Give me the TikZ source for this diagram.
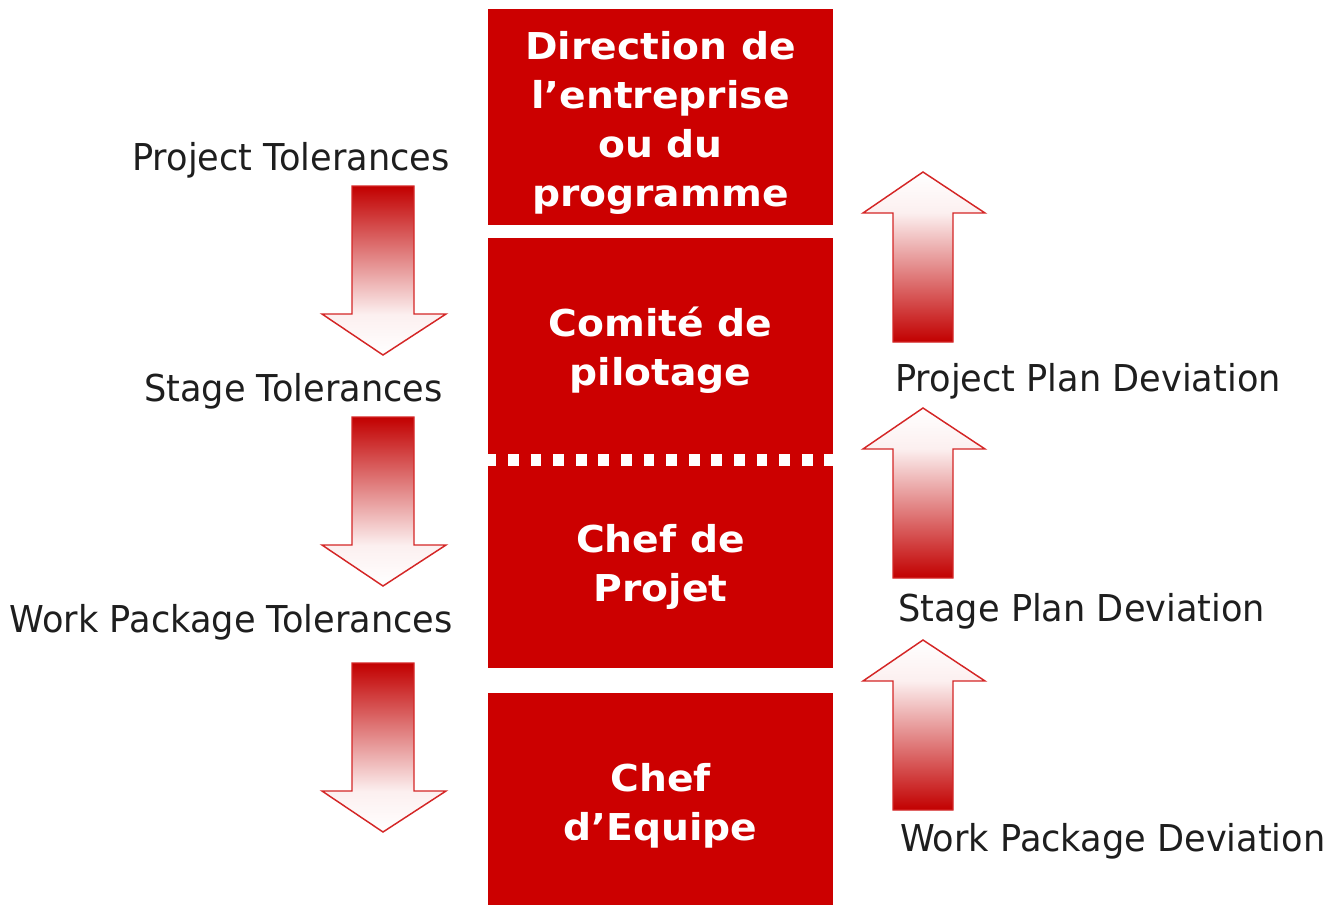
\documentclass[tikz,border=0pt]{standalone}
\usepackage{fontspec}
\setmainfont{DejaVu Sans}
\newfontfamily\labfont[FakeStretch=0.95]{DejaVu Sans}
\newfontfamily\boxfont[FakeStretch=1.06]{DejaVu Sans}
\definecolor{boxred}{HTML}{CC0000}
\definecolor{labgray}{HTML}{1E1E1E}
\pgfdeclareverticalshading{downfade}{100bp}{color(0bp)=(white); color(25bp)=(white); color(37bp)=(white!94!boxred); color(75bp)=(boxred!95!black); color(100bp)=(boxred!95!black)}
\pgfdeclareverticalshading{upfade}{100bp}{color(0bp)=(boxred!95!black); color(25bp)=(boxred!95!black); color(63bp)=(white!94!boxred); color(75bp)=(white); color(100bp)=(white)}
\tikzset{
  box/.style={fill=boxred, minimum width=258.75pt, inner sep=0pt},
  boxtext/.style={text=white, font=\boxfont\bfseries\fontsize{27.75pt}{36.75pt}\selectfont,
    align=center, inner sep=0pt},
  lab/.style={text=labgray, font=\labfont\fontsize{27.75pt}{33pt}\selectfont, inner sep=0pt},
  arr/.style={draw=boxred!85, line width=1.1pt, line join=miter}
}
\begin{document}
\begin{tikzpicture}[x=0.75pt,y=-0.75pt]
\useasboundingbox (0,0) rectangle (1329,904);
% boxes
\node[box, minimum height=162pt]   (b1) at (660.5,117) {};
\node[box, minimum height=166.5pt] (b2) at (660.5,349) {};
\node[box, minimum height=156pt]   (b3) at (660.5,564) {};
\node[box, minimum height=159pt]   (b4) at (660.5,798.5) {};
\node[boxtext] (t1) at (660.5,122.5) {Direction de\\l’entreprise\\ou du\\programme};
\node[boxtext] (t2) at (660.5,350) {Comité de\\pilotage};
\node[boxtext] (t3) at (660.5,567) {Chef de\\Projet};
\node[boxtext] (t4) at (660.5,806) {Chef\\d’Equipe};
% dotted separator
\draw[white, line width=9pt, dash pattern=on 8pt off 8.95pt, dash phase=1.7pt] (b2.south west) -- (b2.south east);
% down arrows
\foreach \t in {186,417,663} {
  \shadedraw[shading=downfade, arr] (352,\t) -- (414,\t) -- (414,\t+128) -- (446,\t+128) -- (383,\t+169) -- (322,\t+128) -- (352,\t+128) -- cycle;
}
% up arrows
\foreach \p in {172,408,640} {
  \shadedraw[shading=upfade, arr] (923,\p) -- (985,\p+41) -- (953,\p+41) -- (953,\p+170) -- (893,\p+170) -- (893,\p+41) -- (863,\p+41) -- cycle;
}
% labels
\node[lab, anchor=base east] (l1) at (450,170) {Project Tolerances};
\node[lab, anchor=base east] (l2) at (443,401) {Stage Tolerances};
\node[lab, anchor=base east] (l3) at (453,632) {Work Package Tolerances};
\node[lab, anchor=base west] (r1) at (895,391) {Project Plan Deviation};
\node[lab, anchor=base west] (r2) at (898,621) {Stage Plan Deviation};
\node[lab, anchor=base west] (r3) at (900,851) {Work Package Deviation};
\end{tikzpicture}
\end{document}
